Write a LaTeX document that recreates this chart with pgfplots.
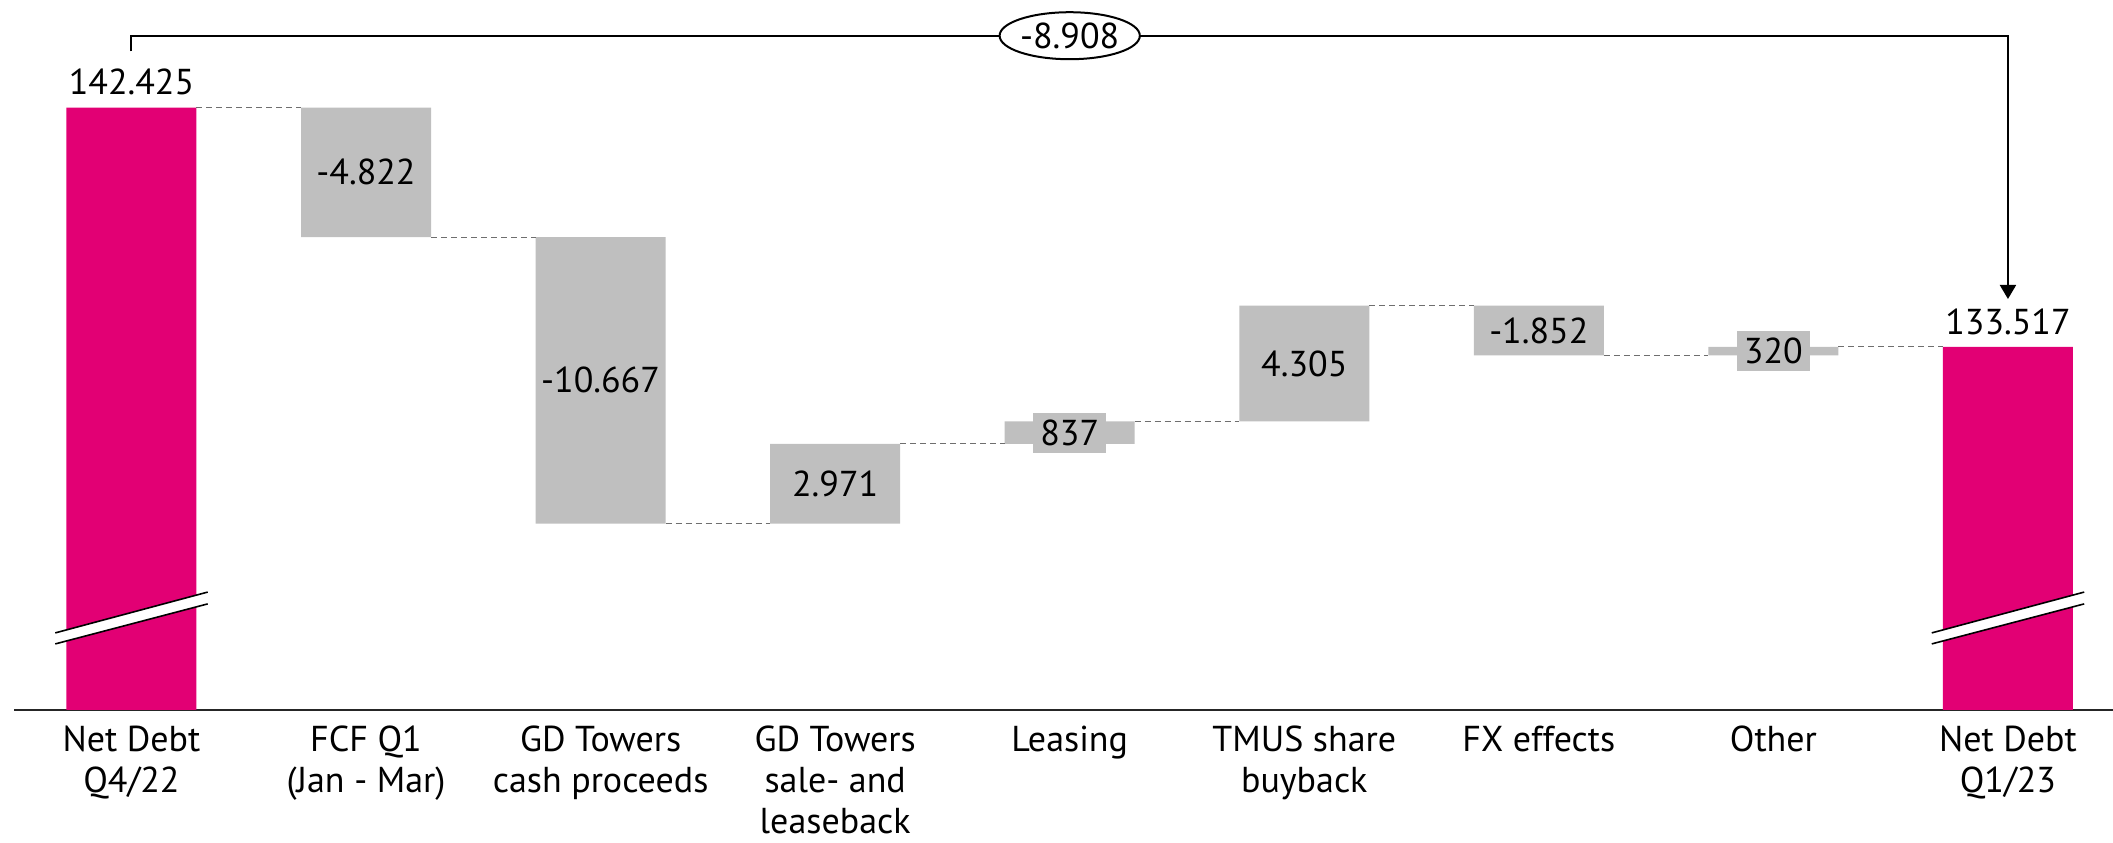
\documentclass[border=0pt]{standalone}
\usepackage{fontspec}
\setmainfont{PT Sans}
\usepackage{pgfplots}
\pgfplotsset{compat=1.18}
\usetikzlibrary{arrows.meta,shapes.geometric}
\definecolor{tmag}{HTML}{E20074}
\definecolor{tgray}{HTML}{BFBFBF}
\definecolor{tline}{HTML}{6E6E6E}

\pgfplotsset{wfbase/.style={scale only axis, width=1049.4pt, height=335.8pt,
    xmin=-0.5, xmax=8.448, ymin=120, ymax=145}}

\begin{document}
\begin{tikzpicture}[font=\fontsize{18}{20.5}\selectfont]
  % bars: invisible base + totals + changes (values in EUR bn)
  \begin{axis}[wfbase
    ,ybar stacked
    ,bar width=65pt
    ,axis x line=bottom
    ,axis y line=none
    ,x axis line style={-, line width=1pt, black!85}
    ,xtick={0,...,8}
    ,xticklabels={{Net Debt\\Q4/22},{FCF Q1\\(Jan - Mar)},{GD Towers\\cash proceeds},
      {GD Towers\\sale- and\\leaseback},{Leasing},{TMUS share\\buyback},
      {FX effects},{Other},{Net Debt\\Q1/23}}
    ,xticklabel style={align=center, yshift=-4.5pt}
    ,major tick length=0pt
    ,ytick=\empty
  ]
    \addplot [draw=none, fill=none] coordinates {
      (0,0) (1,137.603) (2,126.936) (3,126.936) (4,129.907)
      (5,130.744) (6,133.197) (7,133.197) (8,0)};
    \addplot [draw=none, fill=tmag] coordinates {
      (0,142.425) (1,0) (2,0) (3,0) (4,0) (5,0) (6,0) (7,0) (8,133.517)};
    \addplot [draw=none, fill=tgray] coordinates {
      (0,0) (1,4.822) (2,10.667) (3,2.971) (4,0.837)
      (5,4.305) (6,1.852) (7,0.320) (8,0)};
  \end{axis}

  % connectors, axis breaks, labels, bracket
  \begin{axis}[wfbase, hide axis, clip=false, unbounded coords=jump]
    \addplot [tline, line width=0.6pt, dash pattern=on 3pt off 2pt] coordinates {
      (0.277,142.425) (0.723,142.425) (0.8,nan)
      (1.277,137.603) (1.723,137.603) (1.8,nan)
      (2.277,126.936) (2.723,126.936) (2.8,nan)
      (3.277,129.907) (3.723,129.907) (3.8,nan)
      (4.277,130.744) (4.723,130.744) (4.8,nan)
      (5.277,135.049) (5.723,135.049) (5.8,nan)
      (6.277,133.197) (6.723,133.197) (6.8,nan)
      (7.277,133.517) (7.723,133.517)};
    \addplot [fill=white, draw=none] coordinates {
      (-0.325,122.46) (0.325,123.95) (0.325,124.39) (-0.325,122.87)} -- cycle;
    \addplot [fill=white, draw=none] coordinates {
      (7.675,122.46) (8.325,123.95) (8.325,124.39) (7.675,122.87)} -- cycle;
    \addplot [black, line width=0.8pt] coordinates {
      (-0.325,122.46) (0.325,123.95) (0,nan)
      (-0.325,122.87) (0.325,124.39) (0,nan)
      (7.675,122.46) (8.325,123.95) (8,nan)
      (7.675,122.87) (8.325,124.39)};
    \addplot [black, line width=1pt, -{Triangle[width=8pt,length=7pt]}] coordinates {
      (0,144.52) (0,145.1) (8,145.1) (8,135.3)};

    \node [anchor=south, inner sep=6pt] at (axis cs:0,142.425) {142.425};
    \node [anchor=south, inner sep=6pt] at (axis cs:8,133.517) {133.517};
    \node at (axis cs:1,140.014) {-4.822};
    \node at (axis cs:2,132.2695) {-10.667};
    \node at (axis cs:3,128.4215) {2.971};
    \node at (axis cs:5,132.8965) {4.305};
    \node at (axis cs:6,134.123) {-1.852};
    \begin{scope}[every node/.style={fill=tgray, inner xsep=3.5pt, inner ysep=0pt, minimum height=20pt}]
      \node at (axis cs:4,130.3255) {837};
      \node at (axis cs:7,133.357) {320};
    \end{scope}
    \node [draw, ellipse, fill=white, line width=1pt, minimum width=70pt,
      minimum height=23.5pt, inner sep=0pt] at (axis cs:4,145.1) {-8.908};
  \end{axis}
  \pgfresetboundingbox
  \path (-7.1pt,-66pt) rectangle (1049.4pt,355pt);
\end{tikzpicture}
\end{document}
